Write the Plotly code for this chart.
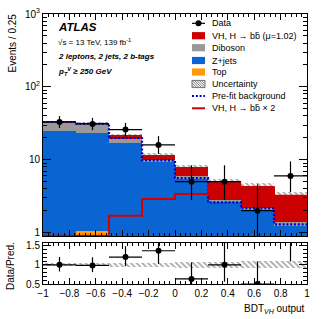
import numpy as np
import plotly.graph_objects as go

# ---------------- data ----------------
bin_edges = [-1.0, -0.75, -0.5, -0.25, 0.0, 0.25, 0.5, 0.75, 1.0]
top_bkg   = [0.5, 1.06, 0.3, 0.2, 0.1, 0.05, 0.05, 0.03]
zjets     = [24.1, 22.0, 16.7, 9.3, 5.4, 2.55, 2.0, 1.2]
diboson   = [8.1, 8.1, 2.5, 0.5, 0.4, 0.2, 0.16, 0.18]
vh_signal = [0.3, 0.3, 2.1, 1.7, 2.0, 2.2, 2.2, 1.9]
vh_x2     = [0.4, 0.6, 1.7, 2.9, 3.4, 4.3, 4.2, 3.2]
prefit_bkg = [33.0, 31.2, 19.9, 9.8, 5.6, 2.6, 2.15, 1.3]
data_obs  = [33, 31, 26, 16, 5, 5, 2, 6]
data_err_hi = [6.8, 6.6, 6.1, 5.1, 3.4, 3.4, 2.6, 3.5]
data_err_lo = [5.7, 5.5, 5.1, 4.0, 2.2, 2.2, 1.3, 2.4]
rel_unc   = [0.04, 0.04, 0.05, 0.06, 0.08, 0.08, 0.09, 0.09]

x_ticks = [-1, -0.8, -0.6, -0.4, -0.2, 0, 0.2, 0.4, 0.6, 0.8, 1]
y_ticks = [1, 10, 100, 1000]
y_ticktext = ["1", "10", "10<sup>2</sup>", "10<sup>3</sup>"]
ratio_ticks = [0.5, 1, 1.5]

# ---------------- derived ----------------
edges = np.array(bin_edges)
centers = 0.5 * (edges[:-1] + edges[1:])
width = edges[1:] - edges[:-1]
top_a = np.array(top_bkg); zj = np.array(zjets); db = np.array(diboson); vh = np.array(vh_signal)
total = top_a + zj + db + vh
unc = np.array(rel_unc)
d = np.array(data_obs, dtype=float)

YMIN, YMAX = 0.9, 1000.0
RMIN, RMAX = 0.5, 1.57

C_VH = "#cc0000"; C_DB = "#999999"; C_ZJ = "#0a64d2"; C_TOP = "#ff9a00"
C_PRE = "#0000cc"; C_RED = "#d40000"
FONT = "Liberation Sans, Arial, sans-serif"

fig = go.Figure()

def stack_bar(base, h, color):
    fig.add_trace(go.Bar(x=centers, y=h, base=base, width=width, marker=dict(color=color, line=dict(width=0)),
                         xaxis="x", yaxis="y", showlegend=False, hoverinfo="skip"))

b0 = np.full(len(centers), 1e-3)
stack_bar(b0, top_a, C_TOP)
stack_bar(b0 + top_a, zj, C_ZJ)
stack_bar(b0 + top_a + zj, db, C_DB)
stack_bar(b0 + top_a + zj + db, vh, C_VH)

hatch = dict(shape="\\", fgcolor="#444444", bgcolor="rgba(0,0,0,0)", size=4, solidity=0.4, fillmode="overlay")
# uncertainty band on the stack
fig.add_trace(go.Bar(x=centers, y=2 * total * unc, base=total * (1 - unc), width=width,
                     marker=dict(color="rgba(0,0,0,0)", line=dict(width=0), pattern=hatch),
                     xaxis="x", yaxis="y", showlegend=False, hoverinfo="skip"))

# pre-fit background (dotted step)
fig.add_trace(go.Scatter(x=edges, y=list(prefit_bkg) + [prefit_bkg[-1]], mode="lines", line_shape="hv",
                         line=dict(color=C_PRE, width=2.2, dash="2px,1.8px"), xaxis="x", yaxis="y",
                         showlegend=False, hoverinfo="skip"))
# VH x2 (solid red step); values below the axis floor are drawn on the floor
vh2 = np.maximum(np.array(vh_x2), YMIN * 1.005)
fig.add_trace(go.Scatter(x=edges, y=list(vh2) + [vh2[-1]], mode="lines", line_shape="hv",
                         line=dict(color=C_RED, width=2), xaxis="x", yaxis="y",
                         showlegend=False, hoverinfo="skip"))
# data
fig.add_trace(go.Scatter(x=centers, y=d, mode="markers", marker=dict(color="black", size=6),
                         error_x=dict(type="data", array=width / 2, color="black", thickness=1.2, width=0),
                         error_y=dict(type="data", symmetric=False, array=data_err_hi, arrayminus=data_err_lo,
                                      color="black", thickness=1.2, width=0),
                         xaxis="x", yaxis="y", showlegend=False, hoverinfo="skip"))

# ---------------- ratio panel ----------------
fig.add_trace(go.Bar(x=centers, y=2 * unc, base=1 - unc, width=width,
                     marker=dict(color="rgba(0,0,0,0)", line=dict(width=0), pattern=hatch),
                     xaxis="x2", yaxis="y2", showlegend=False, hoverinfo="skip"))
ratio = d / total
ratio_disp = np.maximum(ratio, RMIN)
fig.add_trace(go.Scatter(x=centers, y=ratio_disp, mode="markers", marker=dict(color="black", size=6),
                         error_x=dict(type="data", array=width / 2, color="black", thickness=1.2, width=0),
                         error_y=dict(type="data", symmetric=False, array=np.array(data_err_hi) / total,
                                      arrayminus=np.array(data_err_lo) / total, color="black", thickness=1.2, width=0),
                         xaxis="x2", yaxis="y2", showlegend=False, hoverinfo="skip"))

# ---------------- layout ----------------
W, H = 332, 319
L, R, T, B = 43, 25, 14, 35
PW, PH = W - L - R, H - T - B

def px(xp):
    return (xp - L) / PW

def py(yp):
    return (H - B - yp) / PH

main_bottom = py(236)
ratio_top = py(243)

common_x = dict(range=[-1, 1], showline=True, linecolor="black", linewidth=1, mirror="allticks",
                ticks="inside", tickcolor="black", tickvals=x_ticks, showgrid=False, zeroline=False,
                minor=dict(ticks="inside", ticklen=3, tickcolor="black", dtick=0.04, tick0=-1, showgrid=False),
                tickfont=dict(family=FONT, size=10, color="black"))

fig.update_layout(
    width=W, height=H, margin=dict(l=L, r=R, t=T, b=B, autoexpand=False),
    paper_bgcolor="white", plot_bgcolor="white", barmode="overlay", bargap=0,
    font=dict(family=FONT, color="black"),
    xaxis=dict(**common_x, domain=[0, 1], anchor="y", ticklen=6, showticklabels=False),
    yaxis=dict(type="log", range=[np.log10(YMIN), np.log10(YMAX)], domain=[main_bottom, 1], anchor="x",
               showline=True, linecolor="black", linewidth=1, mirror="allticks", ticks="inside", ticklen=8,
               tickcolor="black", tickvals=y_ticks, ticktext=y_ticktext, showgrid=False, zeroline=False,
               tickfont=dict(family=FONT, size=10, color="black"),
               minor=dict(ticks="inside", ticklen=4, tickcolor="black", showgrid=False, tickmode="array",
                          tickvals=[m * 10 ** e for e in range(0, 3) for m in range(2, 10)])),
    xaxis2=dict(**common_x, domain=[0, 1], anchor="y2", ticklen=6, showticklabels=True),
    yaxis2=dict(range=[RMIN, RMAX], domain=[0, ratio_top], anchor="x2", showline=True, linecolor="black",
                linewidth=1, mirror="allticks", ticks="inside", ticklen=8, tickcolor="black",
                tickvals=ratio_ticks, ticktext=["0.5", "1", "1.5"], showgrid=False, zeroline=False,
                tickfont=dict(family=FONT, size=10, color="black"),
                minor=dict(ticks="inside", ticklen=4, tickcolor="black", dtick=0.1, tick0=0.5, showgrid=False)),
)

ann = []
def text(xp, yp, s, size, xanchor="left", yanchor="middle", angle=0):
    ann.append(dict(x=px(xp), y=py(yp), xref="paper", yref="paper", text=s, showarrow=False,
                    xanchor=xanchor, yanchor=yanchor, textangle=angle,
                    font=dict(family=FONT, size=size, color="black")))

text(56, 27, "<b><i>ATLAS</i></b>", 11.5)
text(56, 42, "√s = 13 TeV, 139 fb<sup>-1</sup>", 8)
text(56, 56, "<b><i>2 leptons, 2 jets, 2 b-tags</i></b>", 8)
text(56, 71, "<b><i>p<sub>T</sub><sup>V</sup> ≥ 250 GeV</i></b>", 8)
text(12, 12, "Events / 0.25", 10, xanchor="center", yanchor="top", angle=-90)
text(10, 266, "Data/Pred.", 10, xanchor="center", angle=-90)
text(307, 317, "BDT<sub><i>VH</i></sub> output", 10, xanchor="right", yanchor="bottom")

# legend (manual)
shapes = []
rows = [23.3, 35.7, 47.7, 60.5, 72, 84, 96, 108.3]
labels = ["Data", "VH, H → bb\u0304 (μ=1.02)", "Diboson", "Z+jets", "Top", "Uncertainty",
          "Pre-fit background", "VH, H → bb\u0304 × 2"]
sx0, sx1, tx = 192, 205, 210
for yy, lab in zip(rows, labels):
    text(tx, yy, lab, 9)

def rect(x0, y0, x1, y1, fill, line=None):
    shapes.append(dict(type="rect", xref="paper", yref="paper", x0=px(x0), x1=px(x1), y0=py(y1), y1=py(y0),
                       fillcolor=fill, line=dict(width=0 if line is None else 0.8, color=line or fill)))

def seg(x0, y0, x1, y1, color, w=1, dash="solid"):
    shapes.append(dict(type="line", xref="paper", yref="paper", x0=px(x0), x1=px(x1), y0=py(y0), y1=py(y1),
                       line=dict(color=color, width=w, dash=dash)))

# Data symbol
seg(sx0, rows[0], sx1, rows[0], "black", 1.2)
shapes.append(dict(type="circle", xref="paper", yref="paper", x0=px(198.5 - 3), x1=px(198.5 + 3),
                   y0=py(rows[0] + 3), y1=py(rows[0] - 3), fillcolor="black", line=dict(width=0)))
hb = 3.6
rect(sx0, rows[1] - hb, sx1, rows[1] + hb, C_VH)
rect(sx0, rows[2] - hb, sx1, rows[2] + hb, C_DB)
rect(sx0, rows[3] - hb, sx1, rows[3] + hb, C_ZJ)
rect(sx0, rows[4] - hb, sx1, rows[4] + hb, C_TOP)
# hatched uncertainty box
y0u, y1u = rows[5] - hb, rows[5] + hb
rect(sx0, y0u, sx1, y1u, "rgba(0,0,0,0)", "#555555")
hh, ww = y1u - y0u, sx1 - sx0
c = -hh
while c < ww:
    ya = y0u + max(0, -c)
    yb = y0u + min(hh, ww - c)
    if yb > ya:
        seg(sx0 + c + (ya - y0u), ya, sx0 + c + (yb - y0u), yb, "#555555", 0.8)
    c += 2.4
seg(sx0, rows[6], sx1, rows[6], C_PRE, 2.2, "2px,1.8px")
seg(sx0, rows[7], sx1, rows[7], C_RED, 2)

fig.update_layout(annotations=ann, shapes=shapes)
fig.write_html("out.html", config={"displayModeBar": False},
               post_script="document.body.style.margin='0';document.body.style.padding='0';")
